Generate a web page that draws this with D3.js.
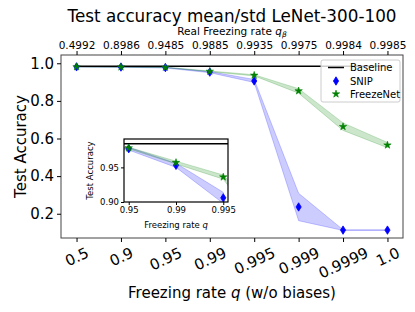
<!DOCTYPE html>
<html>
<head>
<meta charset="utf-8">
<script src="https://cdn.jsdelivr.net/npm/d3@7"></script>
<style>
  body { margin: 0; background: #fff; }
  text { font-family: "DejaVu Sans", sans-serif; fill: #000; }
</style>
</head>
<body>
<div id="chart"></div>
<script>
// freezing rates (categorical x) and the real rates shown on the top axis
const qLabels = ['0.5', '0.9', '0.95', '0.99', '0.995', '0.999', '0.9999', '1.0'];
const realLabels = ['0.4992', '0.8986', '0.9485', '0.9885', '0.9935', '0.9975', '0.9984', '0.9985'];

const snipMean = [0.981, 0.980, 0.977, 0.953, 0.906, 0.236, 0.113, 0.113];
const snipStd = [0.001, 0.001, 0.002, 0.003, 0.008, 0.073, 0.002, 0.002];
const freezeMean = [0.981, 0.980, 0.978, 0.957, 0.936, 0.853, 0.663, 0.565];
const freezeStd = [0.001, 0.001, 0.001, 0.002, 0.003, 0.012, 0.020, 0.014];
const baseline = 0.984;

const insetIdx = [2, 3, 4];  // 0.95, 0.99, 0.995
const yTicks = [0.2, 0.4, 0.6, 0.8, 1.0];
const insetYTicks = [0.90, 0.95];

const W = 415, H = 312;
const frame = {left: 61, right: 403, top: 55, bottom: 238};
const inset = {left: 124, right: 228, top: 139, bottom: 202};

const svg = d3.select('#chart').append('svg')
  .attr('width', W).attr('height', H);

// main scales (matplotlib-like 5% margin)
const x = d3.scaleLinear().domain([-0.35, 7.35]).range([frame.left, frame.right]);
const y = d3.scaleLinear().domain([0.071, 1.044]).range([frame.bottom, frame.top]);

const idx = d3.range(qLabels.length);

svg.append('clipPath').attr('id', 'clipMain')
  .append('rect').attr('x', frame.left).attr('y', frame.top)
  .attr('width', frame.right - frame.left).attr('height', frame.bottom - frame.top);

const plot = svg.append('g').attr('clip-path', 'url(#clipMain)');

// std bands
var band = function(mean, std, xs, ys) {
  return d3.area()
    .x(function(i) { return xs(i); })
    .y0(function(i) { return ys(mean[i] - std[i]); })
    .y1(function(i) { return ys(mean[i] + std[i]); });
};

var drawSeries = function(g, xs, ys, ids, lineX) {
  g.append('path').datum(ids)
    .attr('d', band(snipMean, snipStd, xs, ys))
    .attr('fill', 'blue').attr('fill-opacity', 0.2)
    .attr('stroke', 'blue').attr('stroke-opacity', 0.2).attr('stroke-width', 1);
  g.append('path').datum(ids)
    .attr('d', band(freezeMean, freezeStd, xs, ys))
    .attr('fill', 'green').attr('fill-opacity', 0.2)
    .attr('stroke', 'green').attr('stroke-opacity', 0.2).attr('stroke-width', 1);
  // baseline
  g.append('line')
    .attr('x1', xs(lineX[0])).attr('x2', xs(lineX[1]))
    .attr('y1', ys(baseline)).attr('y2', ys(baseline))
    .attr('stroke', 'black').attr('stroke-width', 1.5);
};

var diamond = function(g, cx, cy) {
  g.append('path')
    .attr('d', 'M0,-4.2L2.6,0L0,4.2L-2.6,0Z')
    .attr('transform', 'translate(' + cx + ',' + cy + ')')
    .attr('fill', 'blue').attr('stroke', 'blue').attr('stroke-width', 0.8);
};
var starPath = d3.symbol().type(d3.symbolStar).size(17)();
var star = function(g, cx, cy) {
  g.append('path')
    .attr('d', starPath)
    .attr('transform', 'translate(' + cx + ',' + cy + ')')
    .attr('fill', 'green').attr('stroke', 'green').attr('stroke-width', 0.6);
};

drawSeries(plot, x, y, idx, [0, 7]);
idx.forEach(function(i) { diamond(plot, x(i), y(snipMean[i])); });
idx.forEach(function(i) { star(plot, x(i), y(freezeMean[i])); });

// frame
svg.append('rect')
  .attr('x', frame.left).attr('y', frame.top)
  .attr('width', frame.right - frame.left).attr('height', frame.bottom - frame.top)
  .attr('fill', 'none').attr('stroke', '#444').attr('stroke-width', 1);

// left axis
const yAxis = svg.append('g')
  .attr('transform', 'translate(' + frame.left + ',0)')
  .call(d3.axisLeft(y).tickValues(yTicks).tickFormat(d3.format('.1f')).tickSize(4).tickPadding(3));
yAxis.select('.domain').remove();
yAxis.selectAll('text').style('font-size', '15px').style('font-family', '"DejaVu Sans"');

// bottom axis with rotated labels
const xAxis = svg.append('g')
  .attr('transform', 'translate(0,' + frame.bottom + ')')
  .call(d3.axisBottom(x).tickValues(idx).tickFormat(function(i) { return qLabels[i]; }).tickSize(4));
xAxis.select('.domain').remove();
xAxis.selectAll('text')
  .style('font-size', '15px').style('font-family', '"DejaVu Sans"')
  .attr('text-anchor', 'middle').attr('dominant-baseline', 'central').attr('dy', null)
  .each(function() {
    var w = this.getComputedTextLength();
    var a = 25 * Math.PI / 180;
    var h = 11;
    var bh = w * Math.sin(a) + h * Math.cos(a);
    d3.select(this)
      .attr('y', null)
      .attr('transform', 'translate(0,' + (9 + bh / 2) + ') rotate(-25)');
  });

// top axis: real freezing rate
const topAxis = svg.append('g')
  .attr('transform', 'translate(0,' + frame.top + ')')
  .call(d3.axisTop(x).tickValues(idx).tickFormat(function(i) { return realLabels[i]; }).tickSize(4).tickPadding(2));
topAxis.select('.domain').remove();
topAxis.selectAll('text').style('font-size', '10.5px').style('font-family', '"DejaVu Sans"');

// titles
const cx = (frame.left + frame.right) / 2;
svg.append('text').attr('x', cx).attr('y', 21.5)
  .attr('text-anchor', 'middle').style('font-size', '16.8px')
  .text('Test accuracy mean/std LeNet-300-100');

const realTitle = svg.append('text').attr('x', cx).attr('y', 35)
  .attr('text-anchor', 'middle').style('font-size', '10.5px');
realTitle.append('tspan').text('Real Freezing rate ');
realTitle.append('tspan').style('font-style', 'italic').text('q');
realTitle.append('tspan').style('font-style', 'italic').style('font-size', '7.5px').attr('dy', 2).text('β');

const xTitle = svg.append('text').attr('x', cx).attr('y', 298)
  .attr('text-anchor', 'middle').style('font-size', '15px');
xTitle.append('tspan').text('Freezing rate ');
xTitle.append('tspan').style('font-style', 'italic').text('q');
xTitle.append('tspan').text(' (w/o biases)');

svg.append('text')
  .attr('transform', 'translate(26,' + ((frame.top + frame.bottom) / 2) + ') rotate(-90)')
  .attr('text-anchor', 'middle').style('font-size', '15px')
  .text('Test Accuracy');

// ---- inset ----
const xi = d3.scaleLinear().domain([1.9, 4.1]).range([inset.left, inset.right]);
const yi = d3.scaleLinear().domain([0.90, 0.991]).range([inset.bottom, inset.top]);

svg.append('clipPath').attr('id', 'clipInset')
  .append('rect').attr('x', inset.left).attr('y', inset.top)
  .attr('width', inset.right - inset.left).attr('height', inset.bottom - inset.top);

svg.append('rect')
  .attr('x', inset.left).attr('y', inset.top)
  .attr('width', inset.right - inset.left).attr('height', inset.bottom - inset.top)
  .attr('fill', 'white');

const iplot = svg.append('g').attr('clip-path', 'url(#clipInset)');
drawSeries(iplot, xi, yi, idx, [0, 7]);
insetIdx.forEach(function(i) { diamond(iplot, xi(i), yi(snipMean[i])); });
insetIdx.forEach(function(i) { star(iplot, xi(i), yi(freezeMean[i])); });

svg.append('rect')
  .attr('x', inset.left).attr('y', inset.top)
  .attr('width', inset.right - inset.left).attr('height', inset.bottom - inset.top)
  .attr('fill', 'none').attr('stroke', 'black').attr('stroke-width', 1.2);

const ixAxis = svg.append('g')
  .attr('transform', 'translate(0,' + inset.bottom + ')')
  .call(d3.axisBottom(xi).tickValues(insetIdx).tickFormat(function(i) { return qLabels[i]; }).tickSize(3).tickPadding(2));
ixAxis.select('.domain').remove();
ixAxis.selectAll('text').style('font-size', '8.5px').style('font-family', '"DejaVu Sans"');

const iyAxis = svg.append('g')
  .attr('transform', 'translate(' + inset.left + ',0)')
  .call(d3.axisLeft(yi).tickValues(insetYTicks).tickFormat(d3.format('.2f')).tickSize(3).tickPadding(2));
iyAxis.select('.domain').remove();
iyAxis.selectAll('text').style('font-size', '8.5px').style('font-family', '"DejaVu Sans"');

const ixTitle = svg.append('text')
  .attr('x', (inset.left + inset.right) / 2).attr('y', 228)
  .attr('text-anchor', 'middle').style('font-size', '8.5px');
ixTitle.append('tspan').text('Freezing rate ');
ixTitle.append('tspan').style('font-style', 'italic').text('q');

svg.append('text')
  .attr('transform', 'translate(93,' + ((inset.top + inset.bottom) / 2) + ') rotate(-90)')
  .attr('text-anchor', 'middle').style('font-size', '8.5px')
  .text('Test Accuracy');

// ---- legend ----
const leg = svg.append('g').attr('transform', 'translate(321,60)');
leg.append('rect')
  .attr('width', 79).attr('height', 42).attr('rx', 2)
  .attr('fill', 'white').attr('fill-opacity', 0.8)
  .attr('stroke', '#ccc').attr('stroke-width', 1);
leg.append('line').attr('x1', 7).attr('x2', 23).attr('y1', 7.5).attr('y2', 7.5)
  .attr('stroke', 'black').attr('stroke-width', 1.5);
diamond(leg, 15, 21);
star(leg, 15, 34);
[['Baseline', 7.5], ['SNIP', 21], ['FreezeNet', 34]].forEach(function(d) {
  leg.append('text').attr('x', 29).attr('y', d[1]).attr('dy', '0.35em')
    .style('font-size', '10px').text(d[0]);
});
</script>
</body>
</html>
